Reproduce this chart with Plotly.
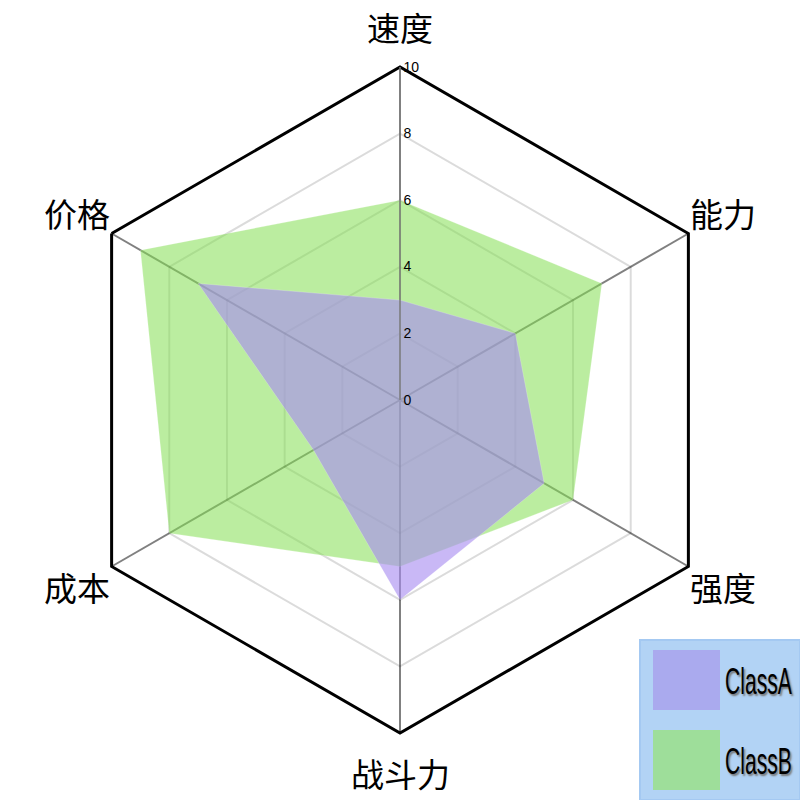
"""Radar chart: ClassA vs ClassB."""

import math

import plotly.graph_objects as go

CATEGORIES = ['速度', '能力', '强度', '战斗力', '成本', '价格']
SERIES_NAMES = ['ClassA', 'ClassB']
CLASS_A = [3, 4, 5, 6, 3, 7]
CLASS_B = [6, 7, 6, 5, 8, 9]
RADIAL_TICKS = [0, 2, 4, 6, 8, 10]

FILL_COLORS = {
    'ClassA': 'rgba(168,140,240,0.62)',
    'ClassB': 'rgba(131,222,82,0.55)',
}
SWATCH_COLORS = {
    'ClassA': '#aaaaee',
    'ClassB': '#9ede9a',
}

W = H = 800
CX, CY, R = 400, 400, 333
NAME_RADIUS = 373  # where the category names sit, in px from the centre

# page tweaks: no body margin, squeeze the legend labels horizontally
POST_JS = """
document.body.style.margin = '0';
document.querySelectorAll('text.annotation-text').forEach(function (t) {
  if (t.textContent.indexOf('Class') === 0) {
    t.style.transformBox = 'fill-box';
    t.style.transformOrigin = 'left center';
    t.style.transform = 'scaleX(0.57)';
  }
});
"""


def closed(values):
    return list(values) + [values[0]]


def build_figure() -> go.Figure:
    fig = go.Figure()
    # ClassB underneath, ClassA on top
    for name, values in [('ClassB', CLASS_B), ('ClassA', CLASS_A)]:
        fig.add_trace(
            go.Scatterpolar(
                r=closed(values),
                theta=closed(CATEGORIES),
                name=name,
                mode='lines',
                fill='toself',
                fillcolor=FILL_COLORS[name],
                line=dict(width=0.5, color='rgba(255,255,255,0.4)'),
                showlegend=False,
                hoverinfo='r+theta+name',
            )
        )

    fig.update_layout(
        width=W,
        height=H,
        margin=dict(l=0, r=0, t=0, b=0),
        paper_bgcolor='white',
        plot_bgcolor='white',
        polar=dict(
            domain=dict(x=[(CX - R) / W, (CX + R) / W], y=[(H - CY - R) / H, (H - CY + R) / H]),
            bgcolor='white',
            gridshape='linear',
            angularaxis=dict(
                rotation=90,
                direction='clockwise',
                showline=True,
                linecolor='black',
                linewidth=3,
                gridcolor='#808080',
                gridwidth=1.5,
                ticks='',
                showticklabels=False,
            ),
            radialaxis=dict(
                range=[0, 10],
                tickvals=RADIAL_TICKS,
                angle=90,
                tickangle=90,
                showline=True,
                linecolor='#808080',
                linewidth=1.5,
                gridcolor='rgba(0,0,0,0.14)',
                gridwidth=1.5,
                ticks='',
                tickfont=dict(family='Liberation Sans, Arial', size=14, color='black'),
            ),
        ),
    )

    # category names just outside each vertex (clockwise from the top)
    n = len(CATEGORIES)
    for i, cat in enumerate(CATEGORIES):
        ang = math.pi / 2 - 2 * math.pi * i / n
        px = CX + NAME_RADIUS * math.cos(ang)
        py = CY - NAME_RADIUS * math.sin(ang)
        fig.add_annotation(
            x=px / W, y=1 - py / H, xref='paper', yref='paper',
            xanchor='center', yanchor='middle', showarrow=False,
            text=cat,
            font=dict(family='Noto Sans CJK SC', size=33, color='black'),
        )

    # legend box, bottom right
    fig.add_shape(
        type='rect', xref='paper', yref='paper',
        x0=640 / W, x1=1.0, y0=0.0, y1=160 / H,
        fillcolor='#b2d3f5', line=dict(color='#a4c9f2', width=2),
        layer='above',
    )
    for i, name in enumerate(SERIES_NAMES):
        top = 650 + i * 80
        fig.add_shape(
            type='rect', xref='paper', yref='paper',
            x0=653 / W, x1=720 / W, y0=1 - (top + 60) / H, y1=1 - top / H,
            fillcolor=SWATCH_COLORS[name], line=dict(width=0),
            layer='above',
        )
        fig.add_annotation(
            x=723 / W, y=1 - (top + 31) / H, xref='paper', yref='paper',
            xanchor='left', yanchor='middle', showarrow=False,
            text=name,
            font=dict(
                family='Liberation Sans, Arial',
                size=37, color='black', shadow='2px 2px 2px #777',
            ),
        )

    return fig


def main() -> None:
    fig = build_figure()
    fig.write_html('out.html', config={'displayModeBar': False}, post_script=POST_JS)


if __name__ == '__main__':
    main()
